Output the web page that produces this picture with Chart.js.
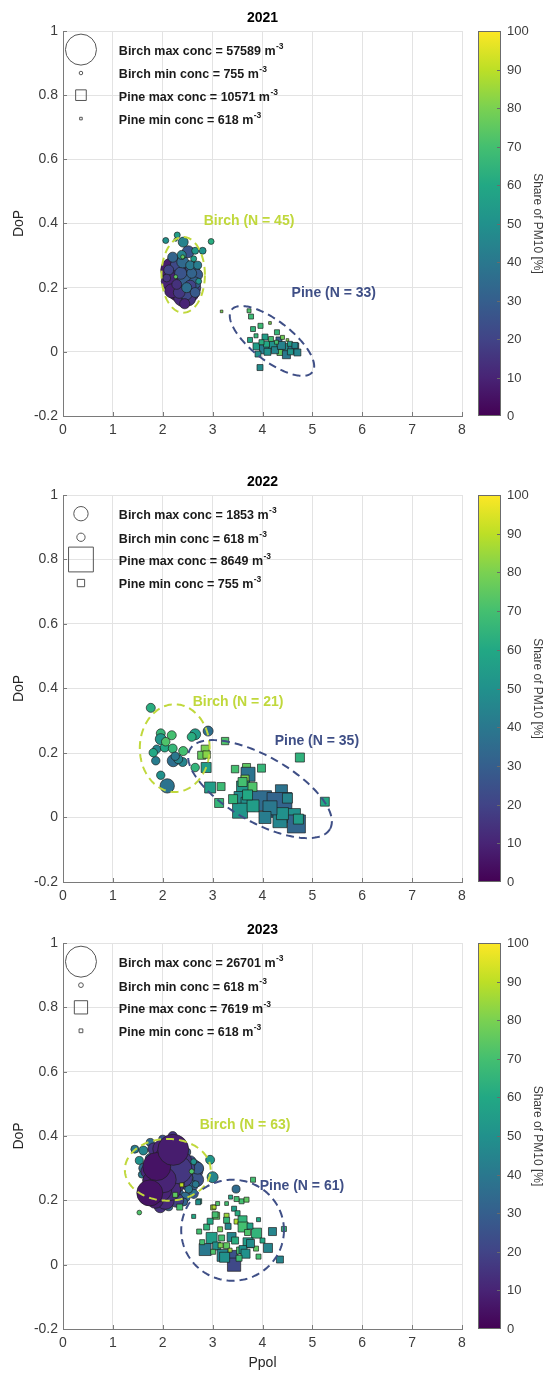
<!DOCTYPE html>
<html lang="en">
<head>
  <meta charset="UTF-8" />
  <title>DoP vs Ppol, 2021-2023</title>
  <script src="https://cdn.jsdelivr.net/npm/chart.js"></script>
  <style>
    body { margin: 0; background: #fff; }
    #wrap { position: relative; width: 548px; height: 1373px; }
    .panel { position: absolute; left: 0; width: 548px; }
  </style>
</head>
<body>
<div id="wrap">
  <div class="panel" style="top:0;height:446px"><canvas id="c2021"></canvas></div>
  <div class="panel" style="top:464px;height:448px"><canvas id="c2022"></canvas></div>
  <div class="panel" style="top:912px;height:461px"><canvas id="c2023"></canvas></div>
</div>

<script>
  // axis ticks
  const xTicks = [0, 1, 2, 3, 4, 5, 6, 7, 8];
  const yTicks = [-0.2, 0, 0.2, 0.4, 0.6, 0.8, 1];
  const cbTicks = [0, 10, 20, 30, 40, 50, 60, 70, 80, 90, 100];

  // 2021 birch (circles): Ppol, DoP, concentration [m-3], share of PM10 [%]
  const birch21X = [2.22,2.35,2.50,2.30,2.55,2.15,2.45,2.40,2.33,2.60,2.62,2.52,2.18,2.44,2.68,2.27,2.36,2.40,2.47,2.33,2.64,2.55,2.58,2.48,2.65,2.12,2.20,2.28,2.44,2.51,2.55,2.70,2.08,2.38,2.41,2.06,2.26,2.29,2.97,2.65,2.80,2.40,2.26,2.62,2.72];
  const birch21Y = [0.255,0.205,0.190,0.235,0.225,0.220,0.255,0.170,0.275,0.260,0.200,0.165,0.190,0.225,0.240,0.270,0.245,0.280,0.180,0.185,0.215,0.205,0.245,0.200,0.185,0.255,0.295,0.210,0.150,0.312,0.270,0.270,0.230,0.302,0.342,0.347,0.350,0.364,0.344,0.315,0.315,0.296,0.234,0.290,0.220];
  const birch21Conc = [40510,57589,34870,28730,24115,19238,23460,19870,15340,11520,12080,11230,11910,11460,8630,8410,8820,8540,8690,8270,8780,8350,5990,6120,5870,5930,6080,5760,6210,8630,4850,3840,3720,4910,5990,2160,755,2230,2090,2940,2870,980,960,2160,2110];
  const birch21Share = [8,6,10,12,14,10,16,12,20,24,20,15,9,30,28,22,26,34,22,16,30,20,32,36,28,20,32,14,10,26,40,42,15,45,44,50,60,55,62,52,50,75,75,55,50];

  // 2021 pine (squares)
  const pine21X = [3.18,3.73,3.77,3.81,3.96,4.15,4.29,3.75,4.05,3.88,4.03,3.91,4.21,4.33,4.45,4.35,4.50,4.62,4.70,4.48,3.95,4.08,4.17,4.40,4.25,4.56,4.10,4.38,3.98,4.28,4.55,3.87,4.65];
  const pine21Y = [0.126,0.128,0.110,0.071,0.081,0.090,0.061,0.037,0.046,0.017,0.008,-0.007,0.021,0.037,0.011,-0.002,0.037,0.011,-0.002,-0.009,-0.049,0.024,0.040,0.045,0.005,0.000,0.000,0.020,0.030,0.030,0.025,0.050,0.020];
  const pine21Conc = [618,1498,2341,2290,2410,700,2360,2330,3370,4588,7584,3290,5992,3410,9364,3370,650,10571,4520,6010,3380,3350,2300,1510,4610,3420,4570,5950,2380,1490,2320,1530,3360];
  const pine21Share = [80,72,68,65,68,80,66,60,55,55,42,50,50,30,48,75,82,38,45,40,48,60,70,78,45,52,50,44,62,70,55,66,46];

  // 2022 birch
  const birch22X = [1.76,1.96,1.96,2.18,1.88,2.04,2.20,1.86,2.21,2.40,2.41,2.65,2.91,2.65,1.96,2.09,1.81,2.31,2.06,2.25,2.58];
  const birch22Y = [0.340,0.261,0.243,0.255,0.212,0.217,0.214,0.176,0.176,0.172,0.206,0.258,0.268,0.155,0.131,0.098,0.201,0.181,0.235,0.190,0.250];
  const birch22Conc = [735,722,1089,741,618,729,716,640,1296,733,745,1082,900,652,631,1853,648,738,660,644,719];
  const birch22Share = [62,66,52,70,45,60,66,42,36,45,70,55,36,65,50,38,60,45,72,40,62];

  // 2022 pine
  const pine22X = [3.25,2.85,2.78,2.88,2.87,2.95,3.17,3.13,4.75,5.25,3.45,3.68,3.98,3.71,3.65,3.61,3.55,3.71,3.55,3.98,4.38,4.34,4.62,4.68,4.72,4.35,3.81,3.41,3.60,3.80,4.40,4.15,4.50,3.70,4.05];
  const pine22Y = [0.237,0.212,0.193,0.195,0.155,0.093,0.096,0.045,0.186,0.049,0.150,0.155,0.153,0.134,0.119,0.093,0.062,0.041,0.021,0.052,0.083,0.039,0.006,-0.020,-0.005,-0.010,0.036,0.057,0.110,0.095,0.012,0.030,0.060,0.070,0.000];
  const pine22Conc = [755,900,905,770,1406,1701,890,1139,1150,1128,780,910,895,2756,902,2376,2025,2740,3164,5625,2031,8649,2770,4556,1410,2748,2018,1142,1131,1145,2022,2760,1398,1402,2035];
  const pine22Share = [72,80,76,82,55,55,68,66,64,60,70,75,66,38,80,52,48,50,52,35,38,32,50,33,55,45,55,65,70,72,50,40,45,60,42];

  // 2023 birch
  const birch23X = [1.44,1.61,1.53,1.68,1.53,2.95,3.00,3.47,2.61,2.48,2.68,2.58,2.70,2.55,1.62,1.75,1.70,2.30,2.45,2.62,
                    1.66,2.37,2.12,2.52,1.75,2.42,2.66,2.00,2.55,1.58,2.20,2.48,1.90,2.30,2.10,2.34,
                    1.95,2.50,1.82,2.10,2.28,1.70,2.35,1.92,2.20,2.05,1.85,2.42,2.25,1.98,1.80,2.15,2.38,2.14,1.94,2.08,2.31,2.01,1.74,1.88,2.21,
                    2.58,2.62];
  const birch23Y = [0.359,0.355,0.324,0.264,0.162,0.326,0.272,0.235,0.295,0.264,0.264,0.245,0.300,0.320,0.300,0.330,0.200,0.220,0.210,0.220,
                    0.245,0.260,0.180,0.235,0.380,0.195,0.250,0.390,0.270,0.280,0.400,0.350,0.290,0.330,0.220,0.300,
                    0.180,0.300,0.360,0.370,0.200,0.290,0.350,0.330,0.310,0.200,0.200,0.270,0.250,0.360,0.260,0.280,0.321,0.233,0.233,0.326,0.295,0.264,0.223,0.305,0.357,
                    0.290,0.320];
  const birch23Conc = [1778,2250,1790,1765,618,2240,3361,1781,11112,10980,5445,4010,3985,4020,2778,2790,2765,4000,2781,2262,
                       1772,1000,1785,1769,1790,1776,1361,1783,1012,1355,2255,1788,1366,1358,1370,1006,
                       3995,5440,4010,4000,5450,5430,5460,5445,7080,9010,7112,8970,9050,9000,11230,13520,11112,13446,16001,18890,21540,18650,18779,21779,26701,
                       695,1000];
  const birch23Share = [40,45,50,45,72,52,45,35,22,20,25,30,28,24,35,30,40,30,35,38,
                        50,45,30,40,35,32,40,25,60,40,15,28,22,20,25,35,
                        14,20,15,12,18,12,10,6,12,12,8,18,14,10,7,9,14,12,10,8,16,10,5,5,8,
                        72,50];

  // 2023 pine
  const pine23X = [3.81,2.73,3.01,3.28,3.43,3.58,3.68,3.07,3.28,3.28,3.48,3.60,3.61,3.31,2.88,2.73,3.88,4.20,4.43,2.98,3.18,3.38,3.71,2.85,3.08,3.21,3.41,3.43,3.55,3.61,3.87,4.11,4.35,3.28,2.25,2.34,2.71,2.38,3.03,3.05,3.48,3.24,3.66,3.76,2.79,3.01,3.16,3.35,3.53,3.70,3.15,3.50,3.92,3.10,3.36,2.95,3.45,3.75,4.00,3.92,2.62];
  const pine23Y = [0.264,0.197,0.178,0.190,0.174,0.197,0.202,0.152,0.152,0.138,0.134,0.138,0.117,0.119,0.117,0.103,0.098,0.103,0.111,0.083,0.083,0.086,0.068,0.047,0.058,0.029,0.029,0.000,0.044,0.047,0.050,0.052,0.016,0.059,0.217,0.179,0.194,0.248,0.179,0.155,0.204,0.023,0.034,0.066,0.070,0.040,0.060,0.045,0.020,0.100,0.110,0.160,0.140,0.190,0.210,0.135,0.075,0.120,0.075,0.025,0.150];
  const pine23Conc = [1085,1092,1078,618,1090,1081,1088,2128,1083,1563,1079,3517,4342,1570,1558,1086,4350,2779,1094,5254,1566,3510,4338,6252,2772,6240,4330,7619,2130,2785,1089,3524,2122,1561,1087,1569,1082,695,701,1556,1093,4345,3512,2768,1080,1091,1084,698,1560,1572,1077,1095,703,692,699,1565,2134,1559,1088,1096,705];
  const pine23Share = [70,55,85,70,55,70,75,75,85,65,88,65,70,45,65,70,65,45,65,55,70,45,55,40,50,45,25,22,70,50,75,45,45,75,75,70,50,90,88,70,70,50,50,48,70,72,80,85,68,72,78,62,60,72,60,60,62,58,60,70,60];

  const FONT = '"Liberation Sans", Arial, Helvetica, sans-serif';
  const VIRIDIS = ['#440154','#482475','#414487','#355f8d','#2a788e','#21918c','#22a884','#44bf70','#7ad151','#bddf26','#fde725'];
  const BIRCH_COL = '#c0d83c';
  const PINE_COL = '#3f4f86';
  const GRID_COL = '#e3e3e3';
  const AXIS_COL = '#7a7a7a';
  const TICK_COL = '#3c3c3c';

  Chart.defaults.font.family = FONT;

  function hexRgb(h) {
    return [1, 3, 5].map(i => parseInt(h.slice(i, i + 2), 16));
  }
  function viridis(v) {
    const t = Math.min(Math.max(v / 100, 0), 1) * (VIRIDIS.length - 1);
    const i = Math.min(Math.floor(t), VIRIDIS.length - 2);
    const f = t - i;
    const a = hexRgb(VIRIDIS[i]), b = hexRgb(VIRIDIS[i + 1]);
    return 'rgb(' + a.map((c, k) => Math.round(c + (b[k] - c) * f)).join(',') + ')';
  }
  // marker area proportional to concentration, largest in a panel ~31px across
  function markerRadius(c, cmax, style) {
    const d = 31 * Math.sqrt(c / cmax);
    return style === 'rect' ? 0.8 * d / Math.SQRT2 : d / 2;
  }

  const panels = [
    { id: 'c2021', year: '2021', xTitle: false, axisH: 30,
      birch: { x: birch21X, y: birch21Y, conc: birch21Conc, share: birch21Share },
      pine: { x: pine21X, y: pine21Y, conc: pine21Conc, share: pine21Share },
      birchEll: { c: [2.41, 0.24], u: [0.435, 0], v: [0, 0.118] },
      pineEll: { c: [4.19, 0.034], u: [0.81, -0.097], v: [-0.244, -0.0495] },
      birchLab: [3.73, 0.408], pineLab: [5.43, 0.183] },
    { id: 'c2022', year: '2022', xTitle: false, axisH: 30,
      birch: { x: birch22X, y: birch22Y, conc: birch22Conc, share: birch22Share },
      pine: { x: pine22X, y: pine22Y, conc: pine22Conc, share: pine22Share },
      birchEll: { c: [2.24, 0.215], u: [0.70, 0], v: [0, 0.136] },
      pineEll: { c: [3.95, 0.088], u: [1.403, -0.1237], v: [-0.328, -0.0884] },
      birchLab: [3.51, 0.359], pineLab: [5.09, 0.237] },
    { id: 'c2023', year: '2023', xTitle: true, axisH: 44,
      birch: { x: birch23X, y: birch23Y, conc: birch23Conc, share: birch23Share },
      pine: { x: pine23X, y: pine23Y, conc: pine23Conc, share: pine23Share },
      birchEll: { c: [2.10, 0.295], u: [0.86, 0], v: [0, 0.096] },
      pineEll: { c: [3.40, 0.107], u: [1.03, 0], v: [0, 0.157] },
      birchLab: [3.65, 0.435], pineLab: [4.79, 0.245] }
  ];
  const panelOf = new Map();

  const decor = {
    id: 'decor',
    afterDatasetsDraw(chart) {
      const P = panelOf.get(chart.canvas);
      const { ctx, chartArea: a, scales: { x, y } } = chart;
      const px = v => x.getPixelForValue(v);
      const py = v => y.getPixelForValue(v);
      const cmax = Math.max(...P.birch.conc, ...P.pine.conc);
      ctx.save();

      // inward tick marks like the original axes
      ctx.strokeStyle = AXIS_COL;
      ctx.lineWidth = 1;
      ctx.beginPath();
      xTicks.forEach(t => { const X = Math.round(px(t)) + 0.5; ctx.moveTo(X, a.bottom); ctx.lineTo(X, a.bottom - 4); });
      yTicks.forEach(t => { const Y = Math.round(py(t)) + 0.5; ctx.moveTo(a.left, Y); ctx.lineTo(a.left + 4, Y); });
      ctx.stroke();

      // dashed cluster ellipses
      [[P.birchEll, BIRCH_COL], [P.pineEll, PINE_COL]].forEach(([e, col]) => {
        ctx.beginPath();
        for (let i = 0; i <= 200; i++) {
          const t = i / 200 * 2 * Math.PI;
          const X = px(e.c[0] + e.u[0] * Math.cos(t) + e.v[0] * Math.sin(t));
          const Y = py(e.c[1] + e.u[1] * Math.cos(t) + e.v[1] * Math.sin(t));
          if (i) ctx.lineTo(X, Y); else ctx.moveTo(X, Y);
        }
        ctx.setLineDash([8, 5]);
        ctx.lineWidth = 2;
        ctx.strokeStyle = col;
        ctx.stroke();
      });
      ctx.setLineDash([]);

      // cluster labels
      ctx.font = 'bold 14px ' + FONT;
      ctx.textAlign = 'center';
      ctx.textBaseline = 'middle';
      ctx.fillStyle = BIRCH_COL;
      ctx.fillText('Birch (N = ' + P.birch.x.length + ')', px(P.birchLab[0]), py(P.birchLab[1]));
      ctx.fillStyle = PINE_COL;
      ctx.fillText('Pine (N = ' + P.pine.x.length + ')', px(P.pineLab[0]), py(P.pineLab[1]));

      // size key
      const rows = [
        ['Birch max conc = ', Math.max(...P.birch.conc), 'circle', 0.942],
        ['Birch min conc = ', Math.min(...P.birch.conc), 'circle', 0.869],
        ['Pine max conc = ', Math.max(...P.pine.conc), 'rect', 0.80],
        ['Pine min conc = ', Math.min(...P.pine.conc), 'rect', 0.727]
      ];
      rows.forEach(([txt, val, style, yv]) => {
        const X = px(0.36), Y = py(yv);
        const r = markerRadius(val, cmax, style);
        ctx.beginPath();
        if (style === 'rect') {
          const h = r * Math.SQRT1_2;
          ctx.rect(X - h, Y - h, 2 * h, 2 * h);
        } else {
          ctx.arc(X, Y, r, 0, 2 * Math.PI);
        }
        ctx.strokeStyle = '#555';
        ctx.lineWidth = 1;
        ctx.stroke();

        const s = txt + val + ' m';
        const tx = px(1.12);
        ctx.textAlign = 'left';
        ctx.fillStyle = '#1a1a1a';
        ctx.font = 'bold 12.5px ' + FONT;
        ctx.fillText(s, tx, Y + 2);
        const w = ctx.measureText(s).width;
        ctx.font = 'bold 8.5px ' + FONT;
        ctx.fillText('-3', tx + w + 0.5, Y - 3);
      });
      ctx.restore();
    },
    afterDraw(chart) {
      // colour bar on the hidden cb scale
      const { ctx, chartArea: a, scales: { cb } } = chart;
      const top = cb.getPixelForValue(100), bot = cb.getPixelForValue(0);
      const L = a.right + 16, R = a.right + 39;
      ctx.save();
      const g = ctx.createLinearGradient(0, bot, 0, top);
      VIRIDIS.forEach((c, i) => g.addColorStop(i / (VIRIDIS.length - 1), c));
      ctx.fillStyle = g;
      ctx.fillRect(L, top, R - L, bot - top);
      ctx.strokeStyle = '#6b6b6b';
      ctx.lineWidth = 1;
      ctx.strokeRect(L + 0.5, top + 0.5, R - L - 1, bot - top - 1);
      ctx.font = '13px ' + FONT;
      ctx.fillStyle = TICK_COL;
      ctx.textAlign = 'left';
      ctx.textBaseline = 'middle';
      ctx.beginPath();
      cbTicks.forEach(v => {
        const Y = Math.round(cb.getPixelForValue(v)) + 0.5;
        if (v > 0 && v < 100) { ctx.moveTo(R - 1, Y); ctx.lineTo(R - 4, Y); }
        ctx.fillText(String(v), R + 6, Y);
      });
      ctx.stroke();
      ctx.translate(a.right + 75, (top + bot) / 2);
      ctx.rotate(Math.PI / 2);
      ctx.textAlign = 'center';
      ctx.font = '12px ' + FONT;
      ctx.fillText('Share of PM10 [%]', 0, 0);
      ctx.restore();
    }
  };

  panels.forEach(P => {
    const canvas = document.getElementById(P.id);
    panelOf.set(canvas, P);
    const cmax = Math.max(...P.birch.conc, ...P.pine.conc);
    const ds = (s, style, label) => {
      const radii = s.conc.map(c => markerRadius(c, cmax, style));
      return {
        label,
        pointStyle: style,
        data: s.x.map((x, i) => ({ x, y: s.y[i] })),
        pointRadius: radii,
        pointHoverRadius: radii,
        backgroundColor: s.share.map(viridis),
        borderColor: 'rgba(30,30,30,0.85)',
        borderWidth: 0.8
      };
    };

    new Chart(canvas, {
      type: 'scatter',
      data: { datasets: [ds(P.pine, 'rect', 'Pine'), ds(P.birch, 'circle', 'Birch')] },
      options: {
        responsive: true,
        maintainAspectRatio: false,
        animation: false,
        events: [],
        layout: { padding: { left: 0, right: 86, top: 0, bottom: 0 } },
        plugins: {
          legend: { display: false },
          tooltip: { enabled: false },
          title: {
            display: true, text: P.year, fullSize: false, color: '#000',
            font: { size: 14, weight: 'bold' }, padding: { top: 9.6, bottom: 4.6 }
          }
        },
        scales: {
          x: {
            type: 'linear', min: 0, max: 8,
            afterBuildTicks: s => { s.ticks = xTicks.map(v => ({ value: v })); },
            afterFit: s => { s.height = P.axisH; },
            grid: { color: GRID_COL, drawTicks: false },
            border: { color: AXIS_COL },
            ticks: { font: { size: 14 }, color: TICK_COL, padding: 6, callback: v => String(v) },
            title: { display: P.xTitle, text: 'Ppol', font: { size: 14 }, color: '#262626', padding: { top: 0, bottom: 1.6 } }
          },
          y: {
            type: 'linear', min: -0.2, max: 1,
            afterBuildTicks: s => { s.ticks = yTicks.map(v => ({ value: v })); },
            afterFit: s => { s.width = 63; },
            grid: { color: GRID_COL, drawTicks: false },
            border: { color: AXIS_COL },
            ticks: { font: { size: 14 }, color: TICK_COL, padding: 5, callback: v => String(Math.round(v * 10) / 10) },
            title: { display: true, text: 'DoP', font: { size: 14 }, color: '#262626', padding: { top: 10.6, bottom: 0 } }
          },
          cb: { type: 'linear', position: 'right', min: 0, max: 100, display: false }
        }
      },
      plugins: [decor]
    });
  });
</script>
</body>
</html>
